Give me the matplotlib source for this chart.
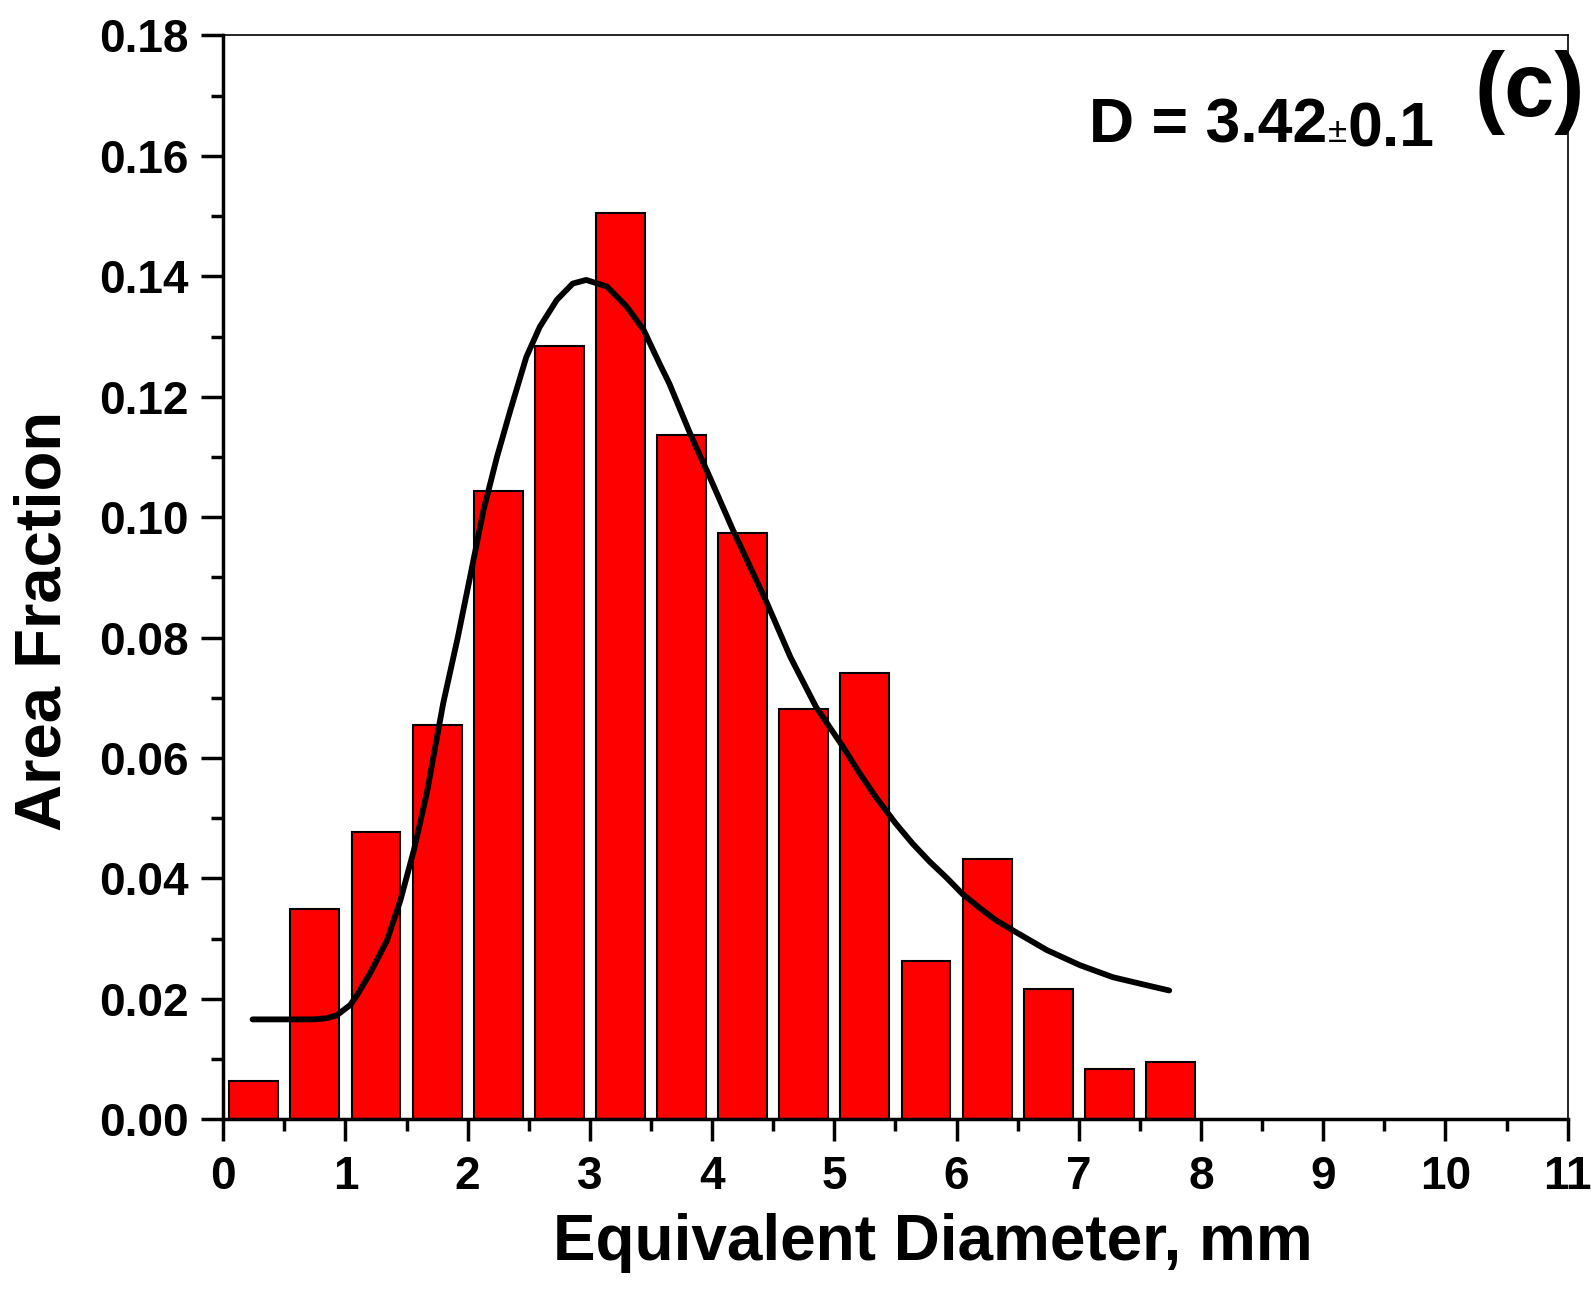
import numpy as np
import matplotlib
matplotlib.use('Agg')
import matplotlib.pyplot as plt

plt.rcParams['font.family'] = ['Liberation Sans', 'DejaVu Sans']
plt.rcParams['font.weight'] = 'bold'

# histogram bins (centres, mm) and area fractions
centers = [0.25, 0.75, 1.25, 1.75, 2.25, 2.75, 3.25, 3.75,
           4.25, 4.75, 5.25, 5.75, 6.25, 6.75, 7.25, 7.75]
fraction = [0.0063, 0.0349, 0.0477, 0.0655, 0.1043, 0.1284, 0.1505, 0.1137,
            0.0974, 0.0681, 0.0742, 0.0263, 0.0432, 0.0217, 0.0084, 0.0095]

# fitted curve
fit_x = [0.24, 0.50, 0.74, 0.85, 0.93, 1.04, 1.10, 1.20, 1.34, 1.45, 1.56,
         1.665, 1.80, 1.92, 2.02, 2.13, 2.24, 2.35, 2.48, 2.59, 2.73, 2.86,
         2.97, 3.14, 3.30, 3.44, 3.57, 3.65, 3.82, 3.98, 4.17, 4.31, 4.45,
         4.64, 4.85, 5.07, 5.20, 5.34, 5.50, 5.64, 5.78, 5.92, 6.05, 6.19,
         6.32, 6.46, 6.74, 7.01, 7.28, 7.55, 7.74]
fit_y = [0.0166, 0.0166, 0.0166, 0.0168, 0.0173, 0.0190, 0.0208, 0.0242,
         0.0297, 0.0364, 0.0447, 0.0541, 0.0691, 0.0801, 0.0901, 0.1012,
         0.1100, 0.1178, 0.1266, 0.1316, 0.1361, 0.1388, 0.1394, 0.1383,
         0.1350, 0.1311, 0.1255, 0.1222, 0.1139, 0.1067, 0.0979, 0.0918,
         0.0857, 0.0768, 0.0685, 0.0619, 0.0577, 0.0535, 0.0492, 0.0458,
         0.0428, 0.0401, 0.0374, 0.0351, 0.0331, 0.0314, 0.0281, 0.0256,
         0.0236, 0.0223, 0.0214]

fig = plt.figure(figsize=(15.91, 12.99), dpi=100)
ax = fig.add_axes([0.1403, 0.1383, 0.8450, 0.8344])

ax.bar(centers, fraction, width=0.4, color='#ff0000', edgecolor='black',
       linewidth=1.5, zorder=2)
ax.plot(fit_x, fit_y, color='black', linewidth=4.2, solid_capstyle='round',
        solid_joinstyle='round', zorder=3)

ax.set_xlim(0, 11)
ax.set_ylim(0, 0.18)
ax.set_xticks(np.arange(0, 12, 1))
ax.set_xticks(np.arange(0.5, 11, 1), minor=True)
ax.set_yticks(np.arange(0, 0.181, 0.02))
ax.set_yticks(np.arange(0.01, 0.18, 0.02), minor=True)
ax.set_yticklabels(['%.2f' % v for v in np.arange(0, 0.181, 0.02)])

ax.tick_params(which='major', direction='out', length=16, width=2.5,
               labelsize=33, pad=9)
ax.tick_params(which='minor', direction='out', length=8.5, width=2.5)
ax.tick_params(axis='x', which='major', pad=10)
ax.tick_params(top=False, right=False, which='both')

for s in ['left', 'bottom']:
    ax.spines[s].set_linewidth(2.5)
for s in ['top', 'right']:
    ax.spines[s].set_linewidth(1.2)

ax.set_xlabel('Equivalent Diameter, mm', fontsize=46, fontweight='bold')
ax.xaxis.set_label_coords(0.528, -0.086)
ax.set_ylabel('Area Fraction', fontsize=47, fontweight='bold')
ax.yaxis.set_label_coords(-0.111, 0.46)

t1 = ax.text(7.08, 0.1623, 'D = 3.42', fontsize=45, fontweight='bold',
             ha='left', va='baseline')
t2 = ax.annotate('±', xy=(1, 0), xycoords=t1, xytext=(1, 4),
                 textcoords='offset points', fontsize=25, fontweight='normal',
                 ha='left', va='bottom')
ax.annotate('0.1', xy=(1, 0), xycoords=t2, xytext=(0, -7),
            textcoords='offset points', fontsize=45, fontweight='bold',
            ha='left', va='bottom')
ax.text(11.14, 0.1666, '(c)', fontsize=65, fontweight='bold',
        ha='right', va='baseline')

fig.savefig('out.png', dpi=100)
